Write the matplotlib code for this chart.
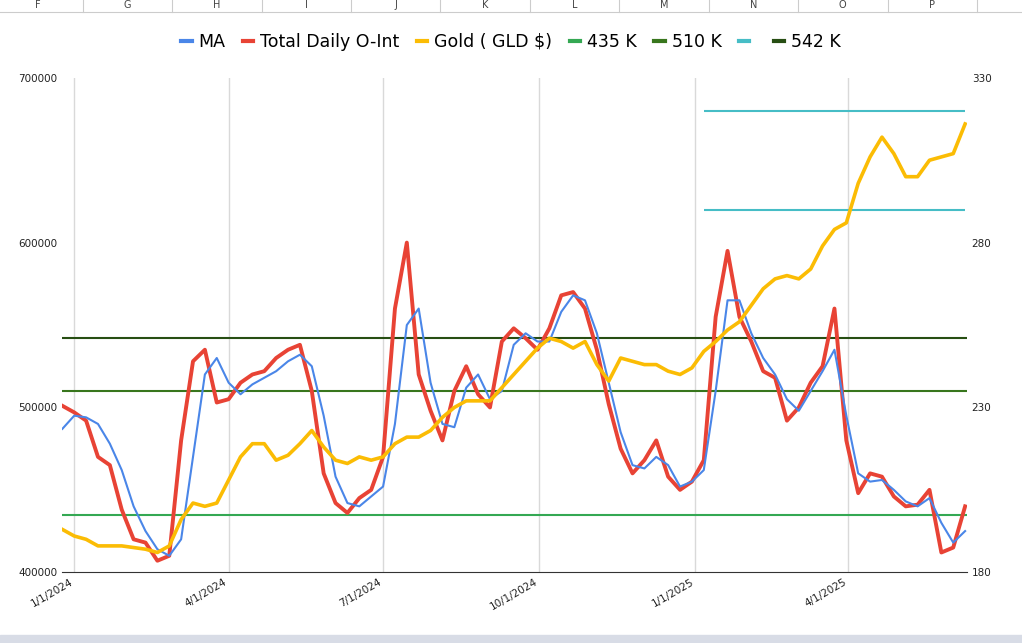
import pandas as pd
import matplotlib.pyplot as plt
import matplotlib.dates as mdates
from matplotlib.lines import Line2D

# weekly samples
weeks = pd.date_range("2023-12-25", periods=77, freq="7D")

total_oi = [501, 497, 492, 470, 465, 438, 420, 418, 407, 410,
            480, 528, 535, 503, 505, 515, 520, 522, 530, 535,
            538, 510, 460, 442, 436, 445, 450, 470, 560, 600,
            520, 498, 480, 510, 525, 508, 500, 540, 548, 542,
            535, 548, 568, 570, 560, 535, 502, 475, 460, 468,
            480, 458, 450, 455, 468, 555, 595, 555, 540, 522,
            518, 492, 500, 515, 525, 560, 480, 448, 460, 458,
            446, 440, 441, 450, 412, 415, 440]
moving_avg = [487, 495, 494, 490, 478, 462, 440, 425, 414, 410,
              420, 470, 520, 530, 515, 508, 514, 518, 522, 528,
              532, 525, 495, 458, 442, 440, 446, 452, 490, 550,
              560, 515, 490, 488, 512, 520, 505, 510, 538, 545,
              540, 540, 558, 568, 565, 545, 515, 485, 465, 463,
              470, 465, 452, 455, 462, 510, 565, 565, 545, 530,
              520, 505, 498, 510, 522, 535, 495, 460, 455, 456,
              450, 443, 440, 445, 430, 418, 425]
gold = [193, 191, 190, 188, 188, 188, 187.5, 187, 186, 188,
        196, 201, 200, 201, 208, 215, 219, 219, 214, 215.5,
        219, 223, 218, 214, 213, 215, 214, 215, 219, 221,
        221, 223, 227, 230, 232, 232, 232, 236, 240, 244,
        248, 251, 250, 248, 250, 243, 238, 245, 244, 243,
        243, 241, 240, 242, 247, 250, 253.5, 256, 261, 266,
        269, 270, 269, 272, 279, 284, 286, 298, 306, 312,
        307, 300, 300, 305, 306, 307, 316]

levels = [435000, 510000, 542000]
level_labels = ["435 K", "510 K", "542 K"]
level_colors = ["#34a853", "#38761d", "#274e13"]
gold_levels = [320, 290]
gold_level_start = "2025-01-06"

columns = ["F", "G", "H", "I", "J", "K", "L", "M", "N", "O", "P"]

fig = plt.figure(figsize=(10.22, 6.43), dpi=100)
ax = fig.add_axes([0.061, 0.110, 0.885, 0.769])
ax2 = ax.twinx()

oi = [v * 1000 for v in total_oi]
ma = [v * 1000 for v in moving_avg]
for lv, c in zip(levels, level_colors):
    ax.axhline(lv, color=c, lw=1.5, zorder=2)
ax.plot(weeks, ma, color="#4a86e8", lw=1.5, zorder=4)
ax.plot(weeks, oi, color="#e84335", lw=2.8, zorder=3)
ax2.plot(weeks, gold, color="#fbbc04", lw=2.6, zorder=3)
for g in gold_levels:
    ax2.hlines(g, pd.Timestamp(gold_level_start), weeks[-1], color="#46bdc6", lw=1.5)

ax.set_ylim(400000, 700000)
ax.set_yticks([400000, 500000, 600000, 700000])
ax.set_yticklabels(["400000", "500000", "600000", "700000"])
ax2.set_ylim(180, 330)
ax2.set_yticks([180, 230, 280, 330])
ax.set_xlim(weeks[0], weeks[-1] + pd.Timedelta(days=1))

qticks = pd.to_datetime(["2024-01-01", "2024-04-01", "2024-07-01", "2024-10-01",
                         "2025-01-01", "2025-04-01"])
ax.set_xticks(qticks)
ax.set_xticklabels([f"{d.month}/{d.day}/{d.year}" for d in qticks], rotation=30, ha="right")
ax.grid(axis="x", color="#d9d9d9", lw=1)
ax.set_axisbelow(True)
for a in (ax, ax2):
    a.tick_params(length=0, labelsize=7.5, colors="#222222")
    for s in a.spines.values():
        s.set_visible(False)
ax.spines["bottom"].set_visible(True)
ax.spines["bottom"].set_color("#333333")

handles = [Line2D([], [], color="#4a86e8", lw=3),
           Line2D([], [], color="#e84335", lw=3),
           Line2D([], [], color="#fbbc04", lw=3)]
labels = ["MA", "Total Daily O-Int", "Gold ( GLD $)"]
for c, l in zip(level_colors[:2], level_labels[:2]):
    handles.append(Line2D([], [], color=c, lw=3))
    labels.append(l)
handles.append(Line2D([], [], color="#46bdc6", lw=3))
labels.append("")
handles.append(Line2D([], [], color=level_colors[2], lw=3))
labels.append(level_labels[2])
fig.legend(handles, labels, loc="center", bbox_to_anchor=(0.5, 0.935), ncol=8,
           frameon=False, fontsize=12.5, handlelength=0.6, handletextpad=0.4, columnspacing=1.0)

# spreadsheet column header strip
for i, col in enumerate(columns):
    fig.text(0.037 + i * 0.0875, 0.993, col, fontsize=7, color="#444444", ha="center", va="center")
    fig.add_artist(Line2D([0.081 + i * 0.0875] * 2, [0.982, 1.0], color="#cccccc", lw=0.8))
fig.add_artist(Line2D([0, 1], [0.982, 0.982], color="#cccccc", lw=0.8))
fig.add_artist(plt.Rectangle((0, 0), 1, 0.012, color="#d8dce6"))

fig.savefig("out.png", dpi=100)
